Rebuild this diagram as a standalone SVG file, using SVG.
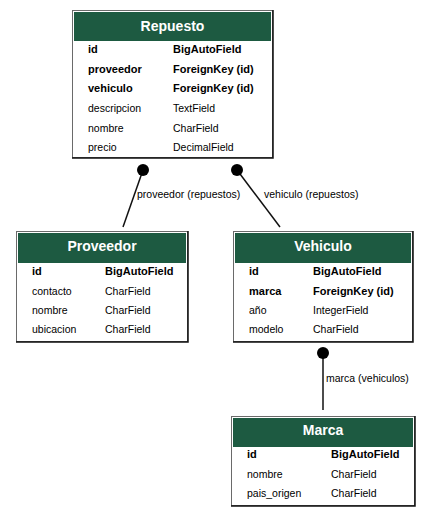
<svg xmlns="http://www.w3.org/2000/svg" width="431" height="517" viewBox="0 0 431 517">
<style>
.frame{fill:#fff;stroke:#6a6a6a;stroke-width:1}
.edge{fill:none;stroke:#111;stroke-width:1.5}
.hdr{fill:#1d5a41}
.title{font-family:"Liberation Sans",Arial,sans-serif;font-size:14px;font-weight:bold;fill:#fff;text-anchor:middle}
.b{font-family:"Liberation Sans",Arial,sans-serif;font-size:11px;font-weight:bold;fill:#000}
.n{font-family:"Liberation Sans",Arial,sans-serif;font-size:10.5px;fill:#000}
.lbl{font-family:"Liberation Sans",Arial,sans-serif;font-size:10.5px;fill:#000}
.conn{stroke:#111;stroke-width:1.5;fill:none}
.dot{fill:#000}
</style>
<rect width="431" height="517" fill="#fff"/>
<g id="connectors">
<line class="conn" x1="143" y1="170" x2="123" y2="227"/>
<circle class="dot" cx="143" cy="170" r="6"/>
<text class="lbl" x="137" y="198">proveedor (repuestos)</text>
<line class="conn" x1="237" y1="170" x2="280" y2="227"/>
<circle class="dot" cx="237" cy="170" r="6"/>
<text class="lbl" x="264" y="198">vehiculo (repuestos)</text>
<line class="conn" x1="323" y1="353" x2="323" y2="410"/>
<circle class="dot" cx="323" cy="353" r="6"/>
<text class="lbl" x="326" y="382">marca (vehiculos)</text>
</g>
<g id="Repuesto">
<rect class="frame" x="72.5" y="10.5" width="200" height="147"/>
<polyline class="edge" points="273,10 273,158 72,158"/>
<rect class="hdr" x="74" y="12" width="197" height="29"/>
<text class="title" x="172.5" y="31">Repuesto</text>
<text class="b" x="88" y="52.5">id</text><text class="b" x="173" y="52.5">BigAutoField</text>
<text class="b" x="88" y="72.5">proveedor</text><text class="b" x="173" y="72.5">ForeignKey (id)</text>
<text class="b" x="88" y="92">vehiculo</text><text class="b" x="173" y="92">ForeignKey (id)</text>
<text class="n" x="88" y="112">descripcion</text><text class="n" x="173" y="112">TextField</text>
<text class="n" x="88" y="131.5">nombre</text><text class="n" x="173" y="131.5">CharField</text>
<text class="n" x="88" y="151">precio</text><text class="n" x="173" y="151">DecimalField</text>
</g>
<g id="Proveedor">
<rect class="frame" x="16.5" y="231.5" width="171" height="110"/>
<polyline class="edge" points="188,231 188,342 16,342"/>
<rect class="hdr" x="18" y="233" width="168" height="30"/>
<text class="title" x="102" y="251">Proveedor</text>
<text class="b" x="32" y="275">id</text><text class="b" x="105" y="275">BigAutoField</text>
<text class="n" x="32" y="294.5">contacto</text><text class="n" x="105" y="294.5">CharField</text>
<text class="n" x="32" y="314">nombre</text><text class="n" x="105" y="314">CharField</text>
<text class="n" x="32" y="333">ubicacion</text><text class="n" x="105" y="333">CharField</text>
</g>
<g id="Vehiculo">
<rect class="frame" x="233.5" y="231.5" width="179" height="110"/>
<polyline class="edge" points="413,231 413,342 233,342"/>
<rect class="hdr" x="235" y="233" width="176" height="30"/>
<text class="title" x="323" y="251">Vehiculo</text>
<text class="b" x="249" y="275">id</text><text class="b" x="313" y="275">BigAutoField</text>
<text class="b" x="249" y="294.5">marca</text><text class="b" x="313" y="294.5">ForeignKey (id)</text>
<text class="n" x="249" y="314">año</text><text class="n" x="313" y="314">IntegerField</text>
<text class="n" x="249" y="333">modelo</text><text class="n" x="313" y="333">CharField</text>
</g>
<g id="Marca">
<rect class="frame" x="231.5" y="416.5" width="183" height="89"/>
<polyline class="edge" points="415,416 415,506 231,506"/>
<rect class="hdr" x="233" y="418" width="180" height="29"/>
<text class="title" x="323" y="435">Marca</text>
<text class="b" x="247" y="458">id</text><text class="b" x="331" y="458">BigAutoField</text>
<text class="n" x="247" y="477.5">nombre</text><text class="n" x="331" y="477.5">CharField</text>
<text class="n" x="247" y="497">pais_origen</text><text class="n" x="331" y="497">CharField</text>
</g>
</svg>
